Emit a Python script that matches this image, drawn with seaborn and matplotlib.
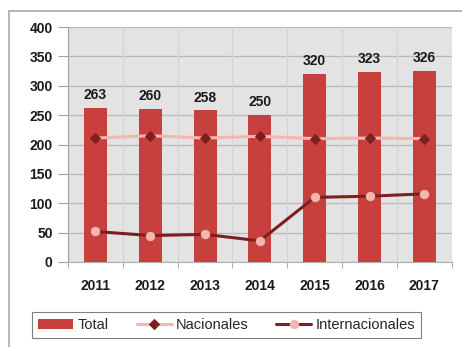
import matplotlib
matplotlib.use("Agg")
import matplotlib.pyplot as plt
import seaborn as sns
import numpy as np
import pandas as pd
from matplotlib.patches import Rectangle, Patch

years = ["2011", "2012", "2013", "2014", "2015", "2016", "2017"]
total = [263, 260, 258, 250, 320, 323, 326]
nacionales = [211, 215, 211, 214, 210, 211, 210]
internacionales = [52, 45, 47, 36, 110, 112, 116]
y_ticks = [0, 50, 100, 150, 200, 250, 300, 350, 400]

sns.set_theme(style="white")
plt.rcParams["font.family"] = ["Liberation Sans", "DejaVu Sans"]

BAR = "#C8403D"
PINK = "#F4B6AE"
DARK = "#7E1F1F"

fig = plt.figure(figsize=(4.62, 3.47), dpi=100)
fig.patch.set_facecolor("white")
ax = fig.add_axes([0.147, 0.245, 0.831, 0.677])
ax.set_facecolor("#E3E3E3")

df = pd.DataFrame({"year": years, "total": total})
sns.barplot(data=df, x="year", y="total", color=BAR, width=0.42,
            saturation=1, ax=ax, zorder=3, linewidth=0)

pos = np.arange(len(years))
sns.lineplot(x=pos, y=nacionales, ax=ax, color=PINK, lw=2.2, marker="D",
             markersize=5, markerfacecolor=DARK, markeredgecolor=DARK,
             zorder=4, label="Nacionales")
sns.lineplot(x=pos, y=internacionales, ax=ax, color=DARK, lw=2.2, marker="o",
             markersize=6, markerfacecolor=PINK, markeredgecolor=PINK,
             zorder=4, label="Internacionales")

for i, v in enumerate(total):
    ax.text(i, v + 10, str(v), ha="center", va="bottom", fontsize=10,
            fontweight="bold", color="#1a1a1a", zorder=5)

ax.set_xlim(-0.5, len(years) - 0.5)
ax.set_ylim(0, 400)
ax.set_yticks(y_ticks)
ax.set_yticklabels([str(t) for t in y_ticks], fontsize=10, fontweight="bold",
                   color="#1a1a1a")
ax.set_xticks(pos)
ax.set_xticklabels(years, fontsize=10, fontweight="bold", color="#1a1a1a")
ax.set_xlabel("")
ax.set_ylabel("")

# horizontal grid at y ticks, vertical grid at category boundaries
for t in y_ticks:
    ax.axhline(t, color="#B9B9B9", lw=0.9, zorder=1)
for b in np.arange(-0.5, len(years), 1.0):
    ax.axvline(b, color="#CFD6DA", lw=0.9, zorder=1)

ax.tick_params(axis="y", length=7, width=0.8, color="#A0A0A0", pad=4, left=True)
ax.tick_params(axis="x", length=0, pad=12)
ax.set_xticks(np.arange(-0.5, len(years), 1.0), minor=True)
ax.tick_params(axis="x", which="minor", length=4, width=0.8, color="#B0B0B0",
               bottom=True)
for s in ["top", "right"]:
    ax.spines[s].set_visible(False)
ax.spines["left"].set_color("#A0A0A0")
ax.spines["bottom"].set_color("#B0B0B0")
ax.spines["left"].set_linewidth(0.8)
ax.spines["bottom"].set_linewidth(0.8)

if ax.legend_:
    ax.legend_.remove()
handles, labels = ax.get_legend_handles_labels()
handles = [Patch(facecolor=BAR, edgecolor="none")] + handles
labels = ["Total"] + labels
leg = fig.legend(handles, labels, loc="center", bbox_to_anchor=(0.491, 0.063),
                 ncol=3, frameon=True, fancybox=False, fontsize=10.5,
                 handlelength=2.4, handleheight=0.6, handletextpad=0.3,
                 columnspacing=1.9, borderpad=0.4)
leg.get_frame().set_edgecolor("#606060")
leg.get_frame().set_linewidth(0.8)

fig.patches.append(Rectangle((0.0195, -0.05), 1.1, 1.018, transform=fig.transFigure,
                             fill=False, edgecolor="#A8A8A8", lw=1.2))

fig.savefig("out.png", dpi=100)
